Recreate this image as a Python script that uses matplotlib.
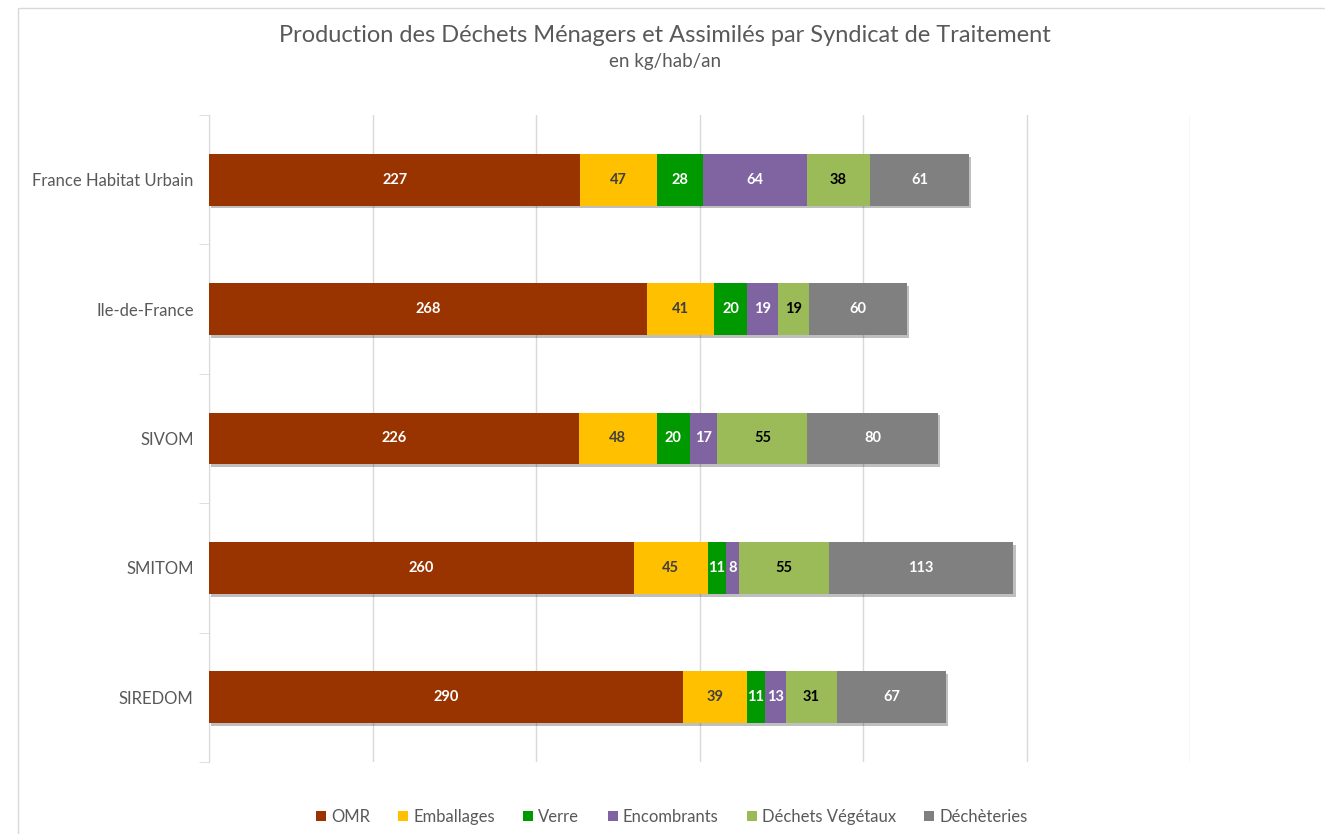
import matplotlib.pyplot as plt
from matplotlib.patches import Patch, Rectangle
import matplotlib.patheffects as pe

plt.rcParams['font.family'] = ['Lato', 'DejaVu Sans']

categories = ['France Habitat Urbain', 'Ile-de-France', 'SIVOM', 'SMITOM', 'SIREDOM']
series = ['OMR', 'Emballages', 'Verre', 'Encombrants', 'Déchets Végétaux', 'Déchèteries']
omr = [227, 268, 226, 260, 290]
emballages = [47, 41, 48, 45, 39]
verre = [28, 20, 20, 11, 11]
encombrants = [64, 19, 17, 8, 13]
vegetaux = [38, 19, 55, 55, 31]
decheteries = [61, 60, 80, 113, 67]

values = [omr, emballages, verre, encombrants, vegetaux, decheteries]
colors = ['#993300', '#FFC000', '#009900', '#8064A2', '#9BBB59', '#808080']
label_colors = ['white', '#404040', 'white', 'white', 'black', 'white']

fig = plt.figure(figsize=(13.25, 8.34), dpi=100)
fig.patches.append(Rectangle((18 / 1325, -0.01), 1.0, 1 - 8 / 834 + 0.01,
                             transform=fig.transFigure, fill=False,
                             edgecolor='#D9D9D9', linewidth=1))
ax = fig.add_axes([209 / 1325, 1 - 762 / 834, 981 / 1325, 647 / 834])

ypos = list(range(len(categories)))
left = [0] * len(categories)
shadow = [pe.SimplePatchShadow(offset=(1.5, -2), shadow_rgbFace='#000000', alpha=0.25), pe.Normal()]
for vals, col, lcol, name in zip(values, colors, label_colors, series):
    bars = ax.barh(ypos, vals, left=left, height=0.4, color=col, label=name, zorder=3)
    for b in bars:
        b.set_path_effects(shadow)
    for y, v, l in zip(ypos, vals, left):
        ax.text(l + v / 2, y, str(v), ha='center', va='center', color=lcol,
                fontsize=10.5, fontweight='bold', zorder=4)
    left = [a + b for a, b in zip(left, vals)]

ax.set_xlim(0, 600)
ax.set_ylim(4.5, -0.5)
ax.set_xticks(range(0, 601, 100))
ax.tick_params(axis='x', length=0, labelbottom=False)
ax.grid(axis='x', color='#D9D9D9', linewidth=1, zorder=0)
ax.set_yticks(ypos)
ax.set_yticklabels(categories, fontsize=12, color='#595959')
ax.tick_params(axis='y', which='major', length=0, pad=11)
ax.set_yticks([i - 0.5 for i in range(len(categories) + 1)], minor=True)
ax.tick_params(axis='y', which='minor', length=7, color='#D9D9D9')
for s in ['top', 'right', 'bottom']:
    ax.spines[s].set_visible(False)
ax.spines['left'].set_color('#D9D9D9')

fig.text(0.502, 1 - 35 / 834, 'Production des Déchets Ménagers et Assimilés par Syndicat de Traitement',
         ha='center', va='center', fontsize=17, color='#595959')
fig.text(0.502, 1 - 62 / 834, 'en kg/hab/an', ha='center', va='center', fontsize=13.5, color='#595959')

handles = [Patch(facecolor=c, label=n) for c, n in zip(colors, series)]
fig.legend(handles=handles, loc='center', bbox_to_anchor=(0.507, 1 - 817 / 834), ncol=6,
           frameon=False, fontsize=12, handlelength=0.6, handleheight=0.6,
           handletextpad=0.3, columnspacing=1.7, labelcolor='#595959')

fig.savefig('out.png', dpi=100)
